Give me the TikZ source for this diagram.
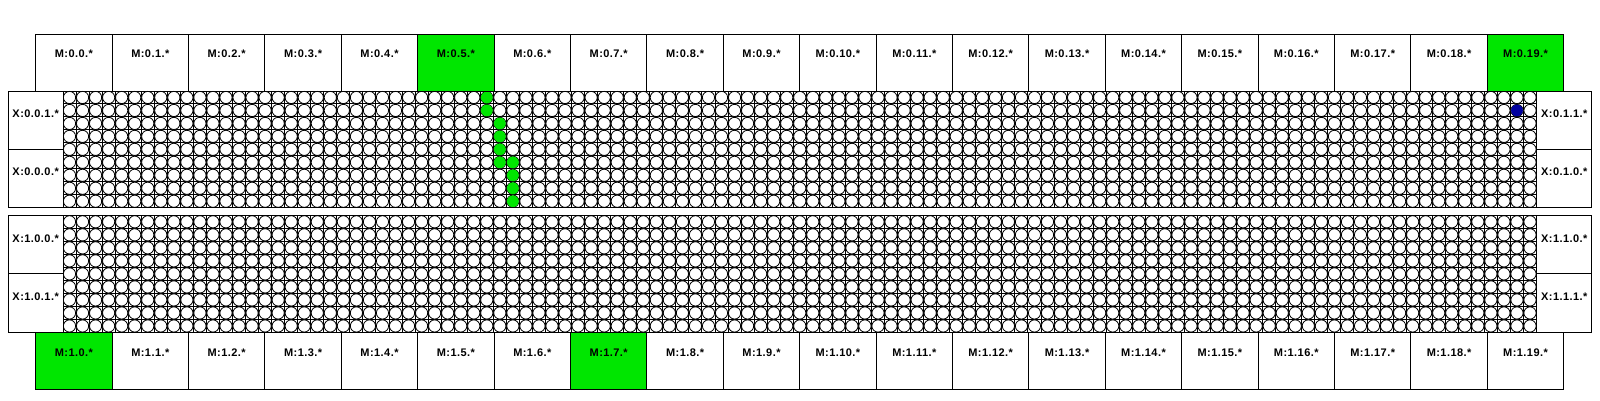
\documentclass[tikz,border=0pt]{standalone}
\usepackage{fontspec}
\newfontfamily\lblfont[LetterSpace=4]{Liberation Sans}
\definecolor{hlgreen}{RGB}{0,230,0}
\definecolor{hlblue}{RGB}{0,0,160}
\begin{document}
\begin{tikzpicture}[x=1pt,y=-1pt,
  boxbase/.style={draw=black, line width=0.9pt, inner sep=0pt, outer sep=0pt, anchor=north west},
  mbox/.style={boxbase, minimum width=76.4pt, minimum height=56.7pt},
  xbox/.style={boxbase, minimum width=54.7pt, minimum height=58.4pt},
  hl/.style={fill=hlgreen},
  lbl/.style={font=\lblfont\bfseries\fontsize{11}{13}\selectfont, inner sep=0pt},
  gline/.style={draw=black, line width=1pt},
  cell/.style={draw=black, fill=white, line width=0.8pt},
  gcell/.style={fill=hlgreen},
  bcell/.style={fill=hlblue},
  frame/.style={draw=black, line width=0.9pt}]
\useasboundingbox (0,0) rectangle (1600,400);
\fill[white] (0,0) rectangle (1600,400);
% ---- grids of cells ----
\foreach \gy/\gh in {91/12.967, 215.3/13.02} {
  \foreach \i in {0,...,113}
    \draw[gline] ({63+13.04*\i},\gy) -- ({63+13.04*\i},{\gy+9*\gh});
  \foreach \j in {0,...,9}
    \draw[gline] (63,{\gy+\gh*\j}) -- (1536.7,{\gy+\gh*\j});
  \foreach \i in {0,...,112}
    \foreach \j in {0,...,8}
      \draw[cell] ({63+13.04*(\i+0.5)},{\gy+\gh*(\j+0.5)}) circle[radius=6.1pt];
}
% highlighted cells in the upper grid
\foreach \i/\j in {32/0,32/1,33/2,33/3,33/4,33/5,34/5,34/6,34/7,34/8}
  \fill[gcell] ({63+13.04*(\i+0.5)},{91+12.967*(\j+0.5)}) circle[radius=5.9pt];
\fill[bcell] ({63+13.04*(111.5)},{91+12.967*(1.5)}) circle[radius=5.9pt];
% frames of the grids
\draw[frame] (63,91) rectangle (1536.7,207.7);
\draw[frame] (63,215.3) rectangle (1536.7,332.5);
% ---- M boxes ----
\foreach \k in {0,...,19} {
  \ifnum\k=5 \def\mst{hl}\else\ifnum\k=19 \def\mst{hl}\else\def\mst{}\fi\fi
  \node[mbox,\mst] (mt\k) at ({35.7+76.4*\k},34.3) {};
  \node[lbl] (mtl\k) at ({35.7+76.4*\k+38.2},53.3) {M:0.\k.*};
  \ifnum\k=0 \def\msb{hl}\else\ifnum\k=7 \def\msb{hl}\else\def\msb{}\fi\fi
  \node[mbox,\msb] (mb\k) at ({35.7+76.4*\k},332.5) {};
  \node[lbl] (mbl\k) at ({35.7+76.4*\k+38.2},352.5) {M:1.\k.*};
}
% ---- X boxes ----
\node[xbox] (x001) at (8.3,91) {};
\node[xbox] (x000) at (8.3,149.35) {};
\node[xbox] (x011) at (1536.7,91) {};
\node[xbox] (x010) at (1536.7,149.35) {};
\node[xbox] (x100) at (8.3,215.3) {};
\node[xbox] (x101) at (8.3,273.9) {};
\node[xbox] (x110) at (1536.7,215.3) {};
\node[xbox] (x111) at (1536.7,273.9) {};
\node[lbl] (lx001) at (35.65,113.5) {X:0.0.1.*};
\node[lbl] (lx000) at (35.65,171.5) {X:0.0.0.*};
\node[lbl] (lx011) at (1564.35,113.5) {X:0.1.1.*};
\node[lbl] (lx010) at (1564.35,171.5) {X:0.1.0.*};
\node[lbl] (lx100) at (35.65,238.5) {X:1.0.0.*};
\node[lbl] (lx101) at (35.65,297) {X:1.0.1.*};
\node[lbl] (lx110) at (1564.35,238.5) {X:1.1.0.*};
\node[lbl] (lx111) at (1564.35,297) {X:1.1.1.*};
\end{tikzpicture}
\end{document}
